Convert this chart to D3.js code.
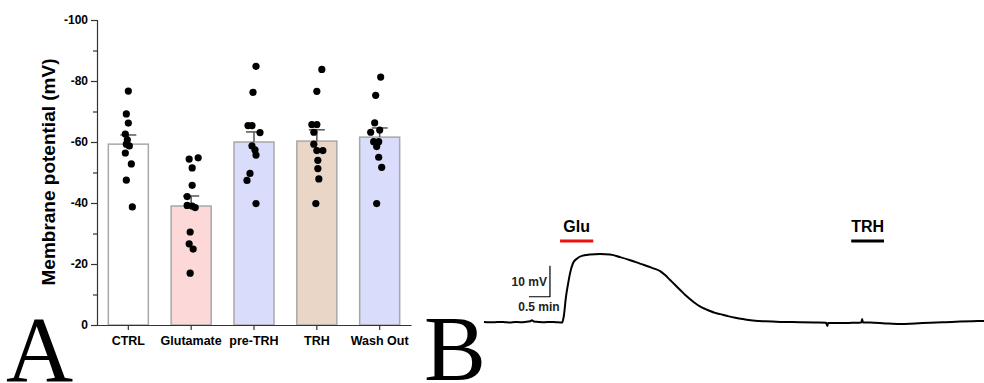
<!DOCTYPE html>
<html>
<head>
<meta charset="utf-8">
<script src="https://cdn.jsdelivr.net/npm/d3@7"></script>
<style>
  body { margin: 0; background: #fff; }
  svg { display: block; font-family: "Liberation Sans", Arial, sans-serif; }
</style>
</head>
<body>
<div id="chart-area"></div>
<script>
// PANEL A DATA
const categories = ["CTRL", "Glutamate", "pre-TRH", "TRH", "Wash Out"];
const barMeans = [-59.3, -39.0, -60.0, -60.3, -61.6];
const barSem = [3.0, 3.3, 3.3, 3.7, 3.0];
const barColors = ["#ffffff", "#fcd8d8", "#d9dcfa", "#ead6c6", "#d9dcfa"];
const ctrlPts = [-76.7, -69.2, -66.2, -62.6, -60.7, -59.3, -58.7, -56.4, -52.8, -47.5, -38.7];
const gluPts = [-54.8, -54.4, -51.5, -45.8, -42.1, -39.2, -39.0, -38.5, -30.5, -26.6, -24.9, -17.0];
const preTrhPts = [-84.8, -76.3, -65.4, -65.4, -63.1, -58.7, -57.4, -55.7, -49.7, -47.4, -39.8];
const trhPts = [-83.8, -76.6, -65.7, -65.7, -63.2, -59.3, -57.2, -57.2, -54.0, -51.3, -47.9, -39.8];
const washPts = [-81.3, -75.3, -66.3, -63.9, -63.2, -60.1, -60.1, -58.5, -55.0, -51.7, -39.8];
// horizontal jitter of each dot, in pixels from the bar centre
const ctrlJit = [0, -2, 0, -3, -1, -2, 1, -3, 3, -2, 4];
const gluJit = [7, -2, 1, 1, -4, -4, 1, 4, -1, -2, 2, -1];
const preTrhJit = [2, -1, -6, -2, 6, -2, 1, 2, -4, -7, 2];
const trhJit = [5, 0, -5, 0, -3, -3, 0, 6, 1, 1, 2, -1];
const washJit = [1, -4, -5, 0, -9, -6, -1, -3, -1, 2, -3];
const yTicks = [0, -20, -40, -60, -80, -100];
const yMinor = [-10, -30, -50, -70, -90];

// PANEL B DATA (time in min, change of membrane potential in mV)
const traceTime = [0.00, 0.14, 0.26, 0.38, 0.50, 0.62, 0.74, 0.86, 0.98, 1.10, 1.14, 1.19, 1.29, 1.45, 1.57, 1.71, 1.86,
  1.90, 1.95, 2.00, 2.05, 2.12, 2.21, 2.33, 2.52, 2.76, 3.00, 3.24, 3.48, 3.71, 3.95, 4.07, 4.19, 4.31, 4.43, 4.55,
  4.67, 4.79, 4.90, 5.02, 5.14, 5.26, 5.38, 5.50, 5.62, 5.79, 5.98, 6.21, 6.45, 6.69, 7.05, 7.52, 7.88, 8.14, 8.17,
  8.19, 8.48, 8.76, 8.98, 9.00, 9.02, 9.19, 9.55, 9.90, 10.26, 10.62, 10.98, 11.33, 11.62, 11.90];
const traceMv = [0.2, 0.1, 0.1, 0.2, 0.1, 0.0, 0.2, 0.1, 0.2, 0.4, 0.7, 0.3, 0.2, 0.1, 0.2, 0.1, 0.0,
  2.1, 8.2, 12.4, 16.0, 19.2, 20.6, 21.5, 21.9, 22.1, 21.9, 21.1, 20.1, 19.0, 17.9, 17.3, 16.6, 15.3, 13.7, 12.1,
  10.5, 8.9, 7.6, 6.3, 5.2, 4.4, 3.7, 3.1, 2.7, 2.1, 1.5, 1.0, 0.6, 0.4, 0.2, 0.1, 0.0, -0.1, -1.1,
  -0.2, -0.2, -0.1, 0.0, 1.1, 0.0, 0.0, -0.3, -0.5, -0.3, -0.1, 0.1, 0.3, 0.4, 0.5];
const drugs = ["Glu", "TRH"];
const drugStart = [1.81, 8.74];
const drugEnd = [2.60, 9.52];
const drugColors = ["#ee1111", "#000000"];
const scaleTime = 0.5;   // min
const scaleVolt = 10;    // mV

const allPts = [ctrlPts, gluPts, preTrhPts, trhPts, washPts];
const allJit = [ctrlJit, gluJit, preTrhJit, trhJit, washJit];

const svg = d3.select("#chart-area")
    .append("svg")
    .attr("width", 984)
    .attr("height", 383);

// ---------- PANEL A ----------
const x = d3.scaleBand()
    .domain(categories)
    .range([97, 411])
    .paddingInner(0.363)
    .paddingOuter(0.18);

const y = d3.scaleLinear()
    .domain([0, -100])
    .range([325, 20]);

const gA = svg.append("g");

// bars
gA.selectAll("rect.bar")
    .data(categories)
    .enter()
    .append("rect")
    .attr("class", "bar")
    .attr("x", d => x(d))
    .attr("y", (d, i) => y(barMeans[i]))
    .attr("width", x.bandwidth())
    .attr("height", (d, i) => y(0) - y(barMeans[i]))
    .attr("fill", (d, i) => barColors[i])
    .attr("stroke", "#a8a8a8")
    .attr("stroke-width", 1.5);

// error bars (upper only)
categories.forEach(function (c, i) {
    const cx = x(c) + x.bandwidth() / 2;
    gA.append("line")
        .attr("x1", cx).attr("x2", cx)
        .attr("y1", y(barMeans[i])).attr("y2", y(barMeans[i] - barSem[i]))
        .attr("stroke", "#555").attr("stroke-width", 1.5);
    gA.append("line")
        .attr("x1", cx - 8).attr("x2", cx + 8)
        .attr("y1", y(barMeans[i] - barSem[i])).attr("y2", y(barMeans[i] - barSem[i]))
        .attr("stroke", "#555").attr("stroke-width", 1.5);
});

// individual cells
categories.forEach(function (c, i) {
    const cx = x(c) + x.bandwidth() / 2;
    gA.selectAll("circle.p" + i)
        .data(allPts[i])
        .enter()
        .append("circle")
        .attr("class", "p" + i)
        .attr("cx", (d, j) => cx + allJit[i][j])
        .attr("cy", d => y(d))
        .attr("r", 3.6)
        .attr("fill", "#000");
});

// y axis
const yAxis = gA.append("g")
    .attr("transform", "translate(97,0)")
    .call(d3.axisLeft(y).tickValues(yTicks).tickSize(6).tickFormat(d => String(d)));
yAxis.selectAll("text")
    .attr("font-size", "12px")
    .attr("font-weight", "bold")
    .attr("fill", "#000")
    .attr("font-family", "Liberation Sans, Arial, sans-serif");
yAxis.select(".domain").attr("stroke", "#333").attr("stroke-width", 1.2);
yAxis.selectAll(".tick line").attr("stroke", "#333").attr("stroke-width", 1.2);

const yAxisMinor = gA.append("g")
    .attr("transform", "translate(97,0)")
    .call(d3.axisLeft(y).tickValues(yMinor).tickSize(4).tickFormat(""));
yAxisMinor.select(".domain").remove();
yAxisMinor.selectAll(".tick line").attr("stroke", "#333").attr("stroke-width", 1.2);

// x axis
const xAxis = gA.append("g")
    .attr("transform", "translate(0,325)")
    .call(d3.axisBottom(x).tickSizeInner(5).tickSizeOuter(0));
xAxis.selectAll("text")
    .attr("font-size", "12.5px")
    .attr("font-weight", "bold")
    .attr("fill", "#000")
    .attr("y", 11)
    .attr("font-family", "Liberation Sans, Arial, sans-serif");
xAxis.select(".domain").attr("stroke", "#333").attr("stroke-width", 1.2);
xAxis.selectAll(".tick line").attr("stroke", "#333").attr("stroke-width", 1.2);

// Y LABEL
gA.append("text")
    .attr("transform", "translate(55,172) rotate(-90)")
    .attr("text-anchor", "middle")
    .attr("font-size", "19px")
    .attr("font-weight", "bold")
    .text("Membrane potential (mV)");

// panel letters
svg.append("text")
    .attr("x", 6).attr("y", 381)
    .attr("font-family", "Liberation Serif, Times New Roman, serif")
    .attr("font-size", "93px")
    .text("A");
svg.append("text")
    .attr("x", 424).attr("y", 380)
    .attr("font-family", "Liberation Serif, Times New Roman, serif")
    .attr("font-size", "93px")
    .text("B");

// ---------- PANEL B ----------
const xt = d3.scaleLinear().domain([0, 11.9]).range([484, 984]);
const yt = d3.scaleLinear().domain([0, 10]).range([322.5, 291.5]);

const line = d3.line()
    .x((d, i) => xt(traceTime[i]))
    .y(d => yt(d))
    .curve(d3.curveMonotoneX);

svg.append("path")
    .datum(traceMv)
    .attr("d", line)
    .attr("fill", "none")
    .attr("stroke", "#000")
    .attr("stroke-width", 2)
    .attr("stroke-linejoin", "round");

// drug application bars
drugs.forEach(function (dname, i) {
    const mid = (xt(drugStart[i]) + xt(drugEnd[i])) / 2;
    svg.append("line")
        .attr("x1", xt(drugStart[i])).attr("x2", xt(drugEnd[i]))
        .attr("y1", 241).attr("y2", 241)
        .attr("stroke", drugColors[i])
        .attr("stroke-width", 3);
    svg.append("text")
        .attr("x", mid).attr("y", 232)
        .attr("text-anchor", "middle")
        .attr("font-size", "16px")
        .attr("font-weight", "bold")
        .text(dname);
});

// scale bar
const sbT = 1.57, sbV = 8.3;
svg.append("path")
    .attr("d", "M" + xt(sbT - scaleTime) + "," + yt(sbV) +
        "L" + xt(sbT) + "," + yt(sbV) +
        "L" + xt(sbT) + "," + yt(sbV + scaleVolt))
    .attr("fill", "none")
    .attr("stroke", "#000")
    .attr("stroke-width", 1.2);
svg.append("text")
    .attr("x", xt(sbT) - 3).attr("y", 286)
    .attr("text-anchor", "end")
    .attr("font-size", "12px")
    .attr("font-weight", "bold")
    .attr("fill", "#222")
    .text(scaleVolt + " mV");
svg.append("text")
    .attr("x", 539).attr("y", 311)
    .attr("text-anchor", "middle")
    .attr("font-size", "12px")
    .attr("font-weight", "bold")
    .attr("fill", "#222")
    .text(scaleTime + " min");
</script>
</body>
</html>
